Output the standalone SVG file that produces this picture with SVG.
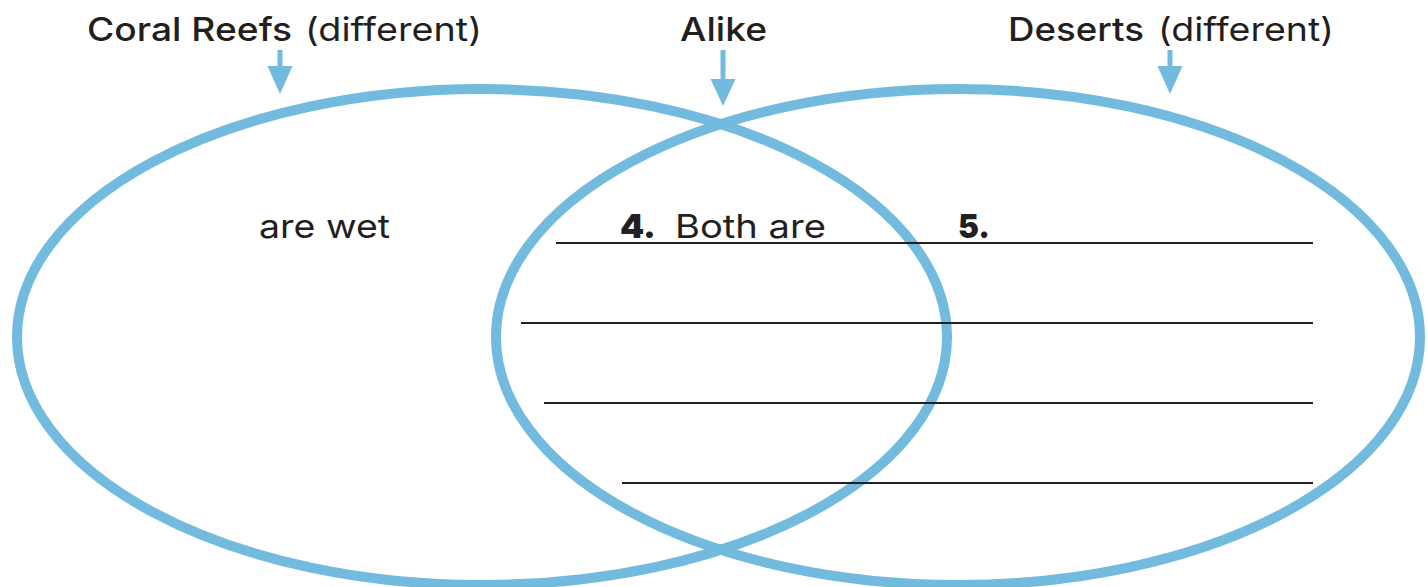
<svg xmlns="http://www.w3.org/2000/svg" width="1427" height="587" viewBox="0 0 1427 587">
<style>
.ring{fill:none;stroke:#72bbdf;stroke-width:10}
.arr{fill:#72bbdf}
.t{font-family:Inter,"Open Sans","Liberation Sans",sans-serif;font-size:33px;fill:#231f20;font-weight:400}
.b{font-weight:500}
.bb{font-weight:900}
.ln{stroke:#231f20;stroke-width:2}
</style>
<rect width="1427" height="587" fill="#fff"/>
<g id="coral-reefs">
<ellipse class="ring" cx="482" cy="337" rx="465" ry="248"/>
<text class="t b" x="87" y="41" textLength="205" lengthAdjust="spacingAndGlyphs">Coral Reefs</text>
<text class="t" x="305" y="41" textLength="177" lengthAdjust="spacingAndGlyphs">(different)</text>
<text class="t" x="259" y="238" textLength="131" lengthAdjust="spacingAndGlyphs">are wet</text>
</g>
<g id="deserts">
<ellipse class="ring" cx="958" cy="337" rx="462" ry="248"/>
<text class="t b" x="1008" y="41" textLength="136" lengthAdjust="spacingAndGlyphs">Deserts</text>
<text class="t" x="1158" y="41" textLength="176" lengthAdjust="spacingAndGlyphs">(different)</text>
<text class="t bb" x="958" y="238" textLength="32" lengthAdjust="spacingAndGlyphs">5.</text>
</g>
<g id="alike">
<text class="t b" x="680" y="41" textLength="87" lengthAdjust="spacingAndGlyphs">Alike</text>
<text class="t bb" x="620" y="238" textLength="36" lengthAdjust="spacingAndGlyphs">4.</text>
<text class="t" x="675" y="238" textLength="151" lengthAdjust="spacingAndGlyphs">Both are</text>
</g>
<g id="connectors">
<path class="arr" d="M277.5 50h5v16h10l-12.5 28l-12.5-28h10z"/>
<path class="arr" d="M720.5 50h5v29h10l-12.5 27l-12.5-27h10z"/>
<path class="arr" d="M1167.5 50h5v16h10l-12.5 28l-12.5-28h10z"/>
<line class="ln" x1="556" y1="243" x2="1313" y2="243"/>
<line class="ln" x1="521" y1="323" x2="1313" y2="323"/>
<line class="ln" x1="544" y1="403" x2="1313" y2="403"/>
<line class="ln" x1="622" y1="483" x2="1313" y2="483"/>
</g>
</svg>
